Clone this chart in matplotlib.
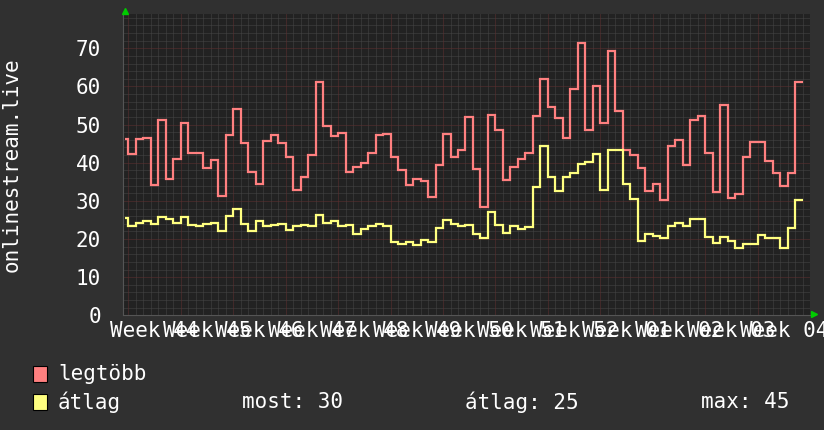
import matplotlib
matplotlib.use('Agg')
import matplotlib.pyplot as plt
from matplotlib.patches import Rectangle
import numpy as np

# daily values, first one is a partial day before the first week boundary
legtobb = [46.1, 42.2, 46.1, 46.6, 34.2, 51.2, 35.7, 41.1, 50.5, 42.6, 42.6,
           38.5, 40.8, 31.3, 47.2, 54.2, 45.3, 37.5, 34.4, 45.7, 47.2, 45.3,
           41.6, 32.9, 36.3, 41.9, 61.3, 49.7, 47.1, 47.8, 37.7, 39.0, 40.0,
           42.6, 47.4, 47.5, 41.5, 38.2, 34.2, 35.7, 35.1, 31.0, 39.4, 47.5,
           41.5, 43.4, 51.9, 38.4, 28.4, 52.5, 48.6, 35.6, 38.9, 41.0, 42.6,
           52.3, 62.0, 54.5, 51.6, 46.4, 59.4, 71.4, 48.5, 60.1, 50.5, 69.4,
           53.6, 43.4, 41.9, 38.5, 32.7, 34.3, 30.1, 44.5, 46.0, 39.5, 51.2,
           52.3, 42.5, 32.3, 55.1, 30.8, 31.8, 41.5, 45.5, 45.5, 40.5, 37.4,
           33.9, 37.4, 61.3]
atlag = [25.6, 23.5, 24.3, 24.6, 24.0, 25.8, 25.3, 24.3, 25.8, 23.7, 23.4,
         23.9, 24.2, 22.2, 26.0, 27.9, 23.9, 22.2, 24.7, 23.5, 23.8, 23.9,
         22.4, 23.4, 23.7, 23.5, 26.2, 24.3, 24.7, 23.5, 23.7, 21.2, 22.5,
         23.4, 24.0, 23.5, 19.1, 18.6, 19.2, 18.5, 19.8, 19.3, 22.8, 25.1,
         23.9, 23.5, 23.8, 21.2, 20.3, 27.1, 23.8, 21.5, 23.4, 22.5, 23.2,
         33.7, 44.5, 36.3, 32.5, 36.3, 37.2, 39.8, 40.3, 42.2, 32.9, 43.4,
         43.4, 34.5, 30.6, 19.6, 21.3, 20.9, 20.2, 23.4, 24.2, 23.5, 25.3,
         25.2, 20.4, 18.9, 20.5, 19.6, 17.6, 18.8, 18.8, 21.0, 20.2, 20.2,
         17.6, 23.0, 30.1]
week_labels = ['Week 44', 'Week 45', 'Week 46', 'Week 47', 'Week 48',
               'Week 49', 'Week 50', 'Week 51', 'Week 52', 'Week 01',
               'Week 02', 'Week 03', 'Week 04']
y_ticks = [0, 10, 20, 30, 40, 50, 60, 70]
legend_names = ['legtöbb', 'átlag']
stats = ['most: 30', 'átlag: 25', 'max: 45']

RED = '#ff8080'
YEL = '#ffff80'
BG = '#303030'
PLOT_BG = '#222222'
FONT = 'DejaVu Sans Mono'

W, H = 824, 430
fig = plt.figure(figsize=(W / 100, H / 100), dpi=100, facecolor=BG)
# plot box in pixels: x 123..810, y 14..315
ax = fig.add_axes([123 / W, 1 - 315.3 / H, (810 - 123) / W, (315.3 - 14) / H])
ax.set_facecolor(PLOT_BG)

xmin, xmax = -0.73, 91.0
ymax = (315.3 - 14) / 3.814
ax.set_xlim(xmin, xmax)
ax.set_ylim(0, ymax)

# grid
for d in range(0, 92):
    if d % 7 == 0:
        continue
    ax.axvline(d, color='#464646', lw=0.72, ls=(0, (1, 1)), zorder=1)
for v in np.arange(2, ymax, 2):
    if v % 10 == 0:
        continue
    ax.axhline(v, color='#464646', lw=0.72, ls=(0, (1, 1)), zorder=1)
for d in range(0, 92, 7):
    ax.axvline(d, color='#603030', lw=0.72, ls=(0, (1, 1)), zorder=1.5)
for v in y_ticks[1:]:
    ax.axhline(v, color='#603030', lw=0.72, ls=(0, (1, 1)), zorder=1.5)

edges = np.concatenate([[-0.45], np.arange(0, len(legtobb))])
ax.stairs(legtobb, edges, color=RED, lw=1.6, baseline=None, zorder=3)
ax.stairs(atlag, edges, color=YEL, lw=1.6, baseline=None, zorder=3)

for s in ['top', 'right']:
    ax.spines[s].set_visible(False)
ax.spines['left'].set_color('#555555')
ax.spines['bottom'].set_color('#555555')
ax.set_xticks([])
ax.set_yticks(y_ticks)
ax.set_yticklabels([str(v) for v in y_ticks], color='white', fontsize=15,
                   family=FONT)
ax.tick_params(axis='y', length=0, pad=16)

# week labels centred in each week (they overlap, as in the original)
for i, lab in enumerate(week_labels):
    ax.text(3.5 + 7 * i, -4.0, lab, ha='center', va='center', color='white',
            fontsize=15, family=FONT, clip_on=False)

# axis arrows
ax.plot([0.003], [1.0 + 3 / 301], marker='^', color='#00cc00', ms=5,
        transform=ax.transAxes, clip_on=False, zorder=5)
ax.plot([1.0 + 4 / 687], [0.005], marker='>', color='#00cc00', ms=5,
        transform=ax.transAxes, clip_on=False, zorder=5)

fig.text(12 / W, 1 - 165 / H, 'onlinestream.live', rotation=90, ha='center',
         va='center', color='white', fontsize=15, family=FONT)

# legend
for (name, col, yc) in [(legend_names[0], RED, 374), (legend_names[1], YEL, 402)]:
    fig.patches.append(Rectangle((33 / W, 1 - (yc + 8) / H), 14 / W, 16 / H,
                                 facecolor=col, edgecolor='black', lw=0.8,
                                 transform=fig.transFigure))
    fig.text(58 / W, 1 - yc / H, name, ha='left', va='center', color='white',
             fontsize=15, family=FONT)
for txt, x in zip(stats, [242, 465, 701]):
    fig.text(x / W, 1 - 402 / H, txt, ha='left', va='center', color='white',
             fontsize=15, family=FONT)

fig.savefig('out.png', dpi=100, facecolor=BG)
